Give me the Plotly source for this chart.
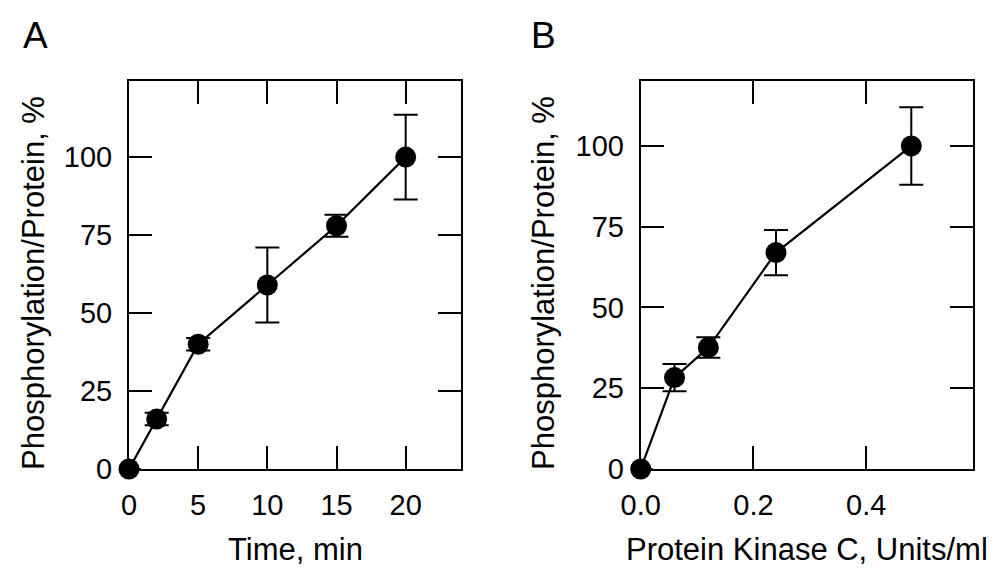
import plotly.graph_objects as go

# Panel A: time course
time_min = [0, 2, 5, 10, 15, 20]
phos_a = [0, 16, 40, 59, 78, 100]
err_a = [0, 2, 2, 12, 3.5, 13.6]

# Panel B: PKC concentration
pkc_units = [0, 0.06, 0.12, 0.24, 0.48]
phos_b = [0, 28.3, 37.6, 67, 100]
err_b = [0, 4.2, 3.2, 7, 12]

xticks_a = [0, 5, 10, 15, 20]
yticks = [0, 25, 50, 75, 100]
xticks_b = [0, 0.2, 0.4]
xticks_b_text = ["0.0", "0.2", "0.4"]

FONT = "Arial, Liberation Sans, sans-serif"
W, H = 1002, 580
OFF = 8  # page body margin

fig = go.Figure()

def add_trace(x, y, e, xa, ya):
    fig.add_trace(go.Scatter(
        x=x, y=y, xaxis=xa, yaxis=ya, mode="lines+markers",
        line=dict(color="black", width=2.2),
        marker=dict(color="black", size=21),
        error_y=dict(type="data", array=e, color="black", thickness=2, width=12),
        showlegend=False, cliponaxis=False,
    ))

add_trace(time_min, phos_a, err_a, "x", "y")
add_trace(pkc_units, phos_b, err_b, "x2", "y2")

def px_x(v):
    return (v - OFF) / W

def px_y(v):
    return 1 - (v - OFF) / H

y0, y1 = px_y(469), px_y(81)
axcommon = dict(showline=True, linecolor="black", linewidth=2, mirror="ticks",
                ticks="inside", ticklen=23, tickwidth=2, tickcolor="black",
                showgrid=False, zeroline=False, automargin=False,
                tickfont=dict(family=FONT, size=29, color="black"))

fig.update_layout(
    width=W, height=H, margin=dict(l=0, r=0, t=0, b=0),
    paper_bgcolor="white", plot_bgcolor="white",
    xaxis=dict(domain=[px_x(129), px_x(461)], range=[0, 24], tickvals=xticks_a,
               anchor="y", ticklabelstandoff=9, **axcommon),
    yaxis=dict(domain=[y0, y1], range=[0, 124.4], tickvals=yticks,
               anchor="x", ticklabelstandoff=9, **axcommon),
    xaxis2=dict(domain=[px_x(640.7), px_x(973.3)], range=[0, 0.59], tickvals=xticks_b,
                ticktext=xticks_b_text, anchor="y2", ticklabelstandoff=9, **axcommon),
    yaxis2=dict(domain=[y0, y1], range=[0, 120.1], tickvals=yticks,
                anchor="x2", ticklabelstandoff=9, **axcommon),
)

def ann(text, x, y, size, angle=0):
    fig.add_annotation(text=text, x=px_x(x), y=px_y(y), xref="paper", yref="paper",
                       showarrow=False, textangle=angle, xanchor="center", yanchor="middle",
                       font=dict(family=FONT, size=size, color="black"))

ann("A", 35, 35, 37)
ann("B", 543, 35, 37)
ann("Time, min", 295, 549.5, 31)
ann("Protein Kinase C, Units/ml", 807, 549.5, 31)
ann("Phosphorylation/Protein, %", 33, 283, 31, -90)
ann("Phosphorylation/Protein, %", 543, 283, 31, -90)

fig.write_html("out.html")
